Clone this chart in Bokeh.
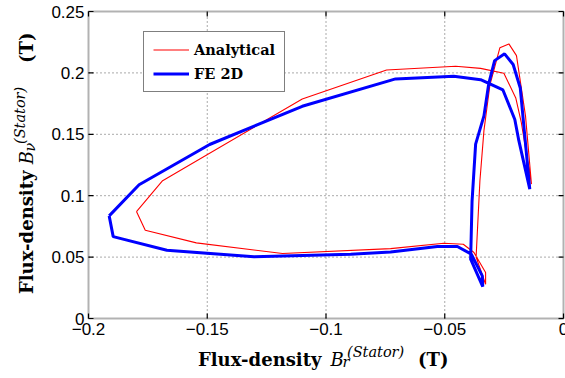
import math
from bokeh.plotting import figure
from bokeh.models import Range1d, Legend, LegendItem, BoxAnnotation
from bokeh.core.properties import value
from bokeh.embed import file_html
from bokeh.resources import INLINE

# ---------------- data ----------------
series_names = ["Analytical", "FE 2D"]

analytical_br = [-0.1798, -0.1761, -0.1546, -0.1183, -0.0728, -0.0504, -0.0422, -0.0377,
                 -0.0328, -0.0328, -0.0368, -0.0352, -0.0335, -0.0310, -0.0268, -0.0230,
                 -0.0198, -0.0160, -0.0135, -0.0178, -0.0201, -0.0251, -0.0349, -0.0454,
                 -0.0745, -0.1100, -0.1688, -0.1798]
analytical_bv = [0.0871, 0.0719, 0.0616, 0.0529, 0.0569, 0.0613, 0.0605, 0.0537,
                 0.0374, 0.0279, 0.0500, 0.1120, 0.1530, 0.1900, 0.2204, 0.2236,
                 0.2141, 0.1650, 0.1094, 0.1600, 0.1796, 0.1997, 0.2037, 0.2054,
                 0.2024, 0.1788, 0.1122, 0.0871]

fe2d_br = [-0.1913, -0.1896, -0.1670, -0.1303, -0.0896, -0.0728, -0.0531, -0.0447,
           -0.0388, -0.0342, -0.0340, -0.0391, -0.0385, -0.0370, -0.0335, -0.0315,
           -0.0290, -0.0248, -0.0212, -0.0182, -0.0142, -0.0188, -0.0205, -0.0255,
           -0.0349, -0.0462, -0.0707, -0.1100, -0.1490, -0.1787, -0.1913]
fe2d_bv = [0.0836, 0.0667, 0.0556, 0.0502, 0.0524, 0.0542, 0.0586, 0.0586,
           0.0524, 0.0347, 0.0260, 0.0483, 0.0956, 0.1420, 0.1650, 0.1910,
           0.2100, 0.2155, 0.2068, 0.1877, 0.1054, 0.1448, 0.1620, 0.1861,
           0.1945, 0.1972, 0.1951, 0.1728, 0.1417, 0.1089, 0.0836]

x_ticks = [-0.2, -0.15, -0.1, -0.05, 0.0]
x_tick_labels = ["\u22120.2", "\u22120.15", "\u22120.1", "\u22120.05", "0"]
y_ticks = [0.0, 0.05, 0.1, 0.15, 0.2, 0.25]
y_tick_labels = ["0", "0.05", "0.1", "0.15", "0.2", "0.25"]

# ---------------- layout (pixels) ----------------
W, H = 565, 378
FL, FR, FT, FB = 88, 563, 11, 318          # plotting box in canvas pixels
x0, x1 = x_ticks[0], x_ticks[-1]
y0, y1 = y_ticks[0], y_ticks[-1]
kx = (FR - FL) / (x1 - x0)
ky = (FB - FT) / (y1 - y0)
x_range = Range1d(x0 - FL / kx, x1 + (W - FR) / kx)
y_range = Range1d(y0 - (H - FB) / ky, y1 + FT / ky)

p = figure(width=W, height=H, x_range=x_range, y_range=y_range,
           output_backend="svg", toolbar_location=None,
           x_axis_location=None, y_axis_location=None,
           min_border_left=0, min_border_right=0, min_border_top=0, min_border_bottom=0)
p.outline_line_color = None
p.grid.visible = False
p.background_fill_color = "white"
p.border_fill_color = "white"

# ---------------- dotted grid ----------------
grid_style = dict(line_color="#555555", line_dash="1 3", line_width=1)
p.segment(x0=x_ticks[1:-1], y0=[y0] * (len(x_ticks) - 2),
          x1=x_ticks[1:-1], y1=[y1] * (len(x_ticks) - 2), **grid_style)
p.segment(x0=[x0] * (len(y_ticks) - 2), y0=y_ticks[1:-1],
          x1=[x1] * (len(y_ticks) - 2), y1=y_ticks[1:-1], **grid_style)

# ---------------- data lines ----------------
r_an = p.line(analytical_br, analytical_bv, line_color="#ff0000", line_width=1.1)
r_fe = p.line(fe2d_br, fe2d_bv, line_color="#0000ff", line_width=3)

# ---------------- box and inward ticks ----------------
p.add_layout(BoxAnnotation(left=x0, right=x1, bottom=y0, top=y1,
                           fill_alpha=0, line_color="black", line_width=2))
tick_style = dict(length=5, length_units="screen", line_color="black", line_width=1.2)
nx, ny = len(x_ticks), len(y_ticks)
p.ray(x=x_ticks, y=[y0] * nx, angle=math.pi / 2, **tick_style)
p.ray(x=x_ticks, y=[y1] * nx, angle=-math.pi / 2, **tick_style)
p.ray(x=[x0] * ny, y=y_ticks, angle=0.0, **tick_style)
p.ray(x=[x1] * ny, y=y_ticks, angle=math.pi, **tick_style)

# ---------------- tick labels ----------------
tick_font = value("Liberation Sans")
p.text(x=x_ticks, y=[y0] * nx, text=x_tick_labels, text_font=tick_font,
       text_font_size=value("17px"), text_color="black",
       text_align="center", text_baseline="top", y_offset=4)
p.text(x=[x0] * ny, y=y_ticks, text=y_tick_labels, text_font=tick_font,
       text_font_size=value("17px"), text_color="black",
       text_align="right", text_baseline="middle", x_offset=-4)

# ---------------- legend ----------------
legend = Legend(items=[LegendItem(label=series_names[0], renderers=[r_an]),
                       LegendItem(label=series_names[1], renderers=[r_fe])],
                location=(143, H - 92))
legend.label_text_font = "DejaVu Serif"
legend.label_text_font_style = "bold"
legend.label_text_font_size = "14.5px"
legend.label_text_color = "black"
legend.border_line_color = "black"
legend.border_line_width = 1
legend.background_fill_color = "white"
legend.background_fill_alpha = 1.0
legend.padding = 9
legend.margin = 0
legend.spacing = 7
legend.glyph_width = 36
legend.glyph_height = 17
legend.label_height = 17
legend.label_standoff = 5
p.add_layout(legend, "center")

# ---------------- composite axis titles ----------------
def add_text(txt, dx, dy, size, style, angle=0.0):
    # anchored at the lower-left corner of the plotting box, offsets in pixels
    p.text(x=[x0], y=[y0], text=[txt], x_offset=dx, y_offset=dy, angle=angle,
           text_font=value("DejaVu Serif"), text_font_size=value(f"{size}px"),
           text_font_style=style, text_color="black",
           text_align="left", text_baseline="alphabetic")

MAIN, SMALL = 18, 14.5
# x title: Flux-density B_r^(Stator) (T)
add_text("Flux-density", 109.5, 40.5, MAIN, "bold")
add_text("B", 242, 40.5, MAIN, "italic")
add_text("r", 254, 43.5, SMALL, "italic")
add_text("(Stator)", 258.5, 33, SMALL, "italic")
add_text("(T)", 329.6, 40.5, MAIN, "bold")

# y title (rotated): Flux-density B_nu^(Stator) (T)
a = math.pi / 2
add_text("Flux-density", -62.3, -24.5, MAIN, "bold", a)
add_text("B", -62.3, -154.2, MAIN, "italic", a)
add_text("\u03bd", -59, -167, SMALL, "italic", a)
add_text("(Stator)", -69, -174.5, SMALL, "italic", a)
add_text("(T)", -62.3, -255.6, MAIN, "bold", a)

open("out.html", "w").write(file_html(p, INLINE))
